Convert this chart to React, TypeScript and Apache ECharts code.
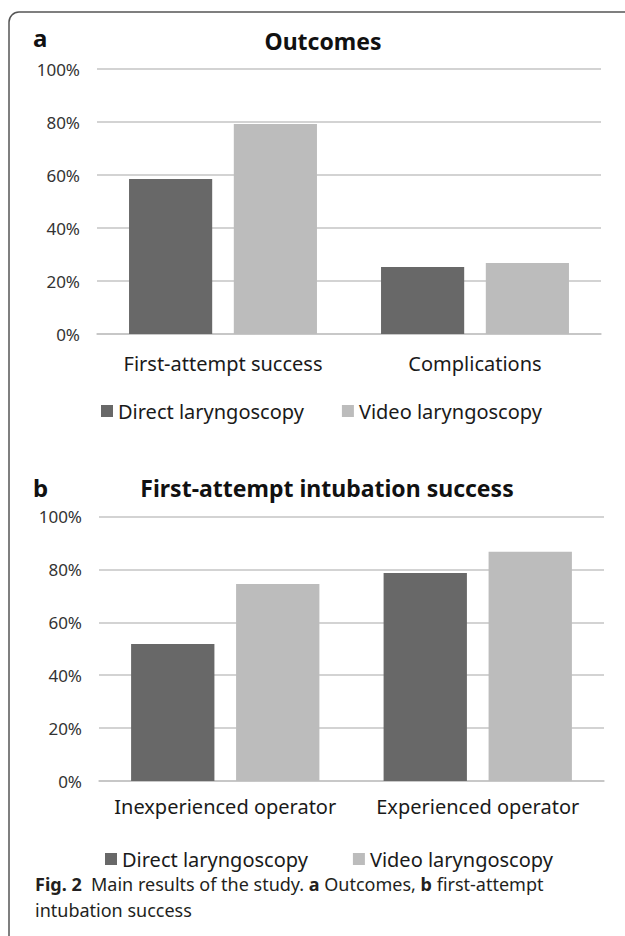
import React, { useEffect, useRef } from "react";
import * as echarts from "echarts";

const seriesNames = ["Direct laryngoscopy", "Video laryngoscopy"];
const categoriesA = ["First-attempt success", "Complications"];
const directA = [58.5, 25.3];
const videoA = [79.2, 26.8];
const categoriesB = ["Inexperienced operator", "Experienced operator"];
const directB = [51.8, 78.6];
const videoB = [74.5, 86.7];
const titleA = "Outcomes";
const titleB = "First-attempt intubation success";
const panelA = "a";
const panelB = "b";
const captionLine1 = "{b|Fig. 2}  Main results of the study. {b|a} Outcomes, {b|b} first-attempt";
const captionLine2 = "intubation success";

const FONT = "'Noto Sans', 'Open Sans', sans-serif";
const DARK = "#686868";
const LIGHT = "#bcbcbc";
const GRID = "#c4c4c4";

export default function App() {
  const ref = useRef<HTMLDivElement>(null);
  useEffect(() => {
    document.body.style.margin = "0";
    if (!ref.current) return;
    const chart = echarts.init(ref.current, undefined, { renderer: "svg" });
    const xAxisBase = (gi: number, data: string[], margin: number) => ({
      type: "category",
      gridIndex: gi,
      data,
      axisTick: { show: false },
      axisLine: { lineStyle: { color: GRID, width: 1.5 } },
      axisLabel: { interval: 0, margin, fontSize: 20, color: "#1a1a1a", fontFamily: FONT },
    });
    const yAxisBase = (gi: number) => ({
      type: "value",
      gridIndex: gi,
      min: 0,
      max: 100,
      interval: 20,
      axisLine: { show: false },
      axisTick: { show: false },
      axisLabel: { formatter: "{value}%", fontSize: 17, color: "#333333", margin: 17, fontFamily: FONT },
      splitLine: { lineStyle: { color: GRID, width: 1.5 } },
    });
    const barBase = (name: string, xi: number, data: number[], color: string) => ({
      type: "bar",
      name,
      xAxisIndex: xi,
      yAxisIndex: xi,
      data,
      barWidth: "33%",
      barGap: "26%",
      itemStyle: { color },
    });
    const legendBase = (top: number, left: number, gap: number) => ({
      top,
      left,
      orient: "horizontal",
      icon: "rect",
      itemWidth: 12,
      itemHeight: 12,
      itemGap: gap,
      data: seriesNames,
      textStyle: { fontSize: 20, color: "#1a1a1a", fontFamily: FONT },
    });
    chart.setOption({
      animation: false,
      backgroundColor: "#ffffff",
      grid: [
        { left: 97, top: 69, width: 504, height: 265 },
        { left: 99, top: 516.5, width: 505, height: 264.5 },
      ],
      xAxis: [xAxisBase(0, categoriesA, 19), xAxisBase(1, categoriesB, 15)],
      yAxis: [yAxisBase(0), yAxisBase(1)],
      legend: [legendBase(396, 96, 38), legendBase(844, 100, 45)],
      series: [
        barBase(seriesNames[0], 0, directA, DARK),
        barBase(seriesNames[1], 0, videoA, LIGHT),
        barBase(seriesNames[0], 1, directB, DARK),
        barBase(seriesNames[1], 1, videoB, LIGHT),
      ],
      graphic: [
        {
          type: "rect",
          shape: { x: 9, y: 12, width: 700, height: 1000, r: [10, 0, 0, 0] },
          style: { fill: "none", stroke: "#555555", lineWidth: 1.5 },
          silent: true,
        },
        {
          type: "text",
          x: 33,
          y: 37,
          style: { text: panelA, fontSize: 24, fontWeight: "bold", fill: "#111", fontFamily: FONT, textVerticalAlign: "middle" },
        },
        {
          type: "text",
          x: 323,
          y: 41,
          style: { text: titleA, fontSize: 23, fontWeight: "bold", fill: "#111", fontFamily: FONT, textAlign: "center", textVerticalAlign: "middle" },
        },
        {
          type: "text",
          x: 33,
          y: 487,
          style: { text: panelB, fontSize: 24, fontWeight: "bold", fill: "#111", fontFamily: FONT, textVerticalAlign: "middle" },
        },
        {
          type: "text",
          x: 327,
          y: 488,
          style: { text: titleB, fontSize: 23, fontWeight: "bold", fill: "#111", fontFamily: FONT, textAlign: "center", textVerticalAlign: "middle" },
        },
        {
          type: "text",
          x: 35,
          y: 884,
          style: {
            text: captionLine1,
            fontSize: 18,
            fill: "#231f20",
            fontFamily: FONT,
            textVerticalAlign: "middle",
            rich: { b: { fontSize: 18, fontWeight: "bold", fill: "#231f20", fontFamily: FONT } },
          },
        },
        {
          type: "text",
          x: 35,
          y: 910,
          style: { text: captionLine2, fontSize: 18, fill: "#231f20", fontFamily: FONT, textVerticalAlign: "middle" },
        },
      ],
    });
    return () => chart.dispose();
  }, []);
  return <div ref={ref} style={{ width: 625, height: 936 }} />;
}
